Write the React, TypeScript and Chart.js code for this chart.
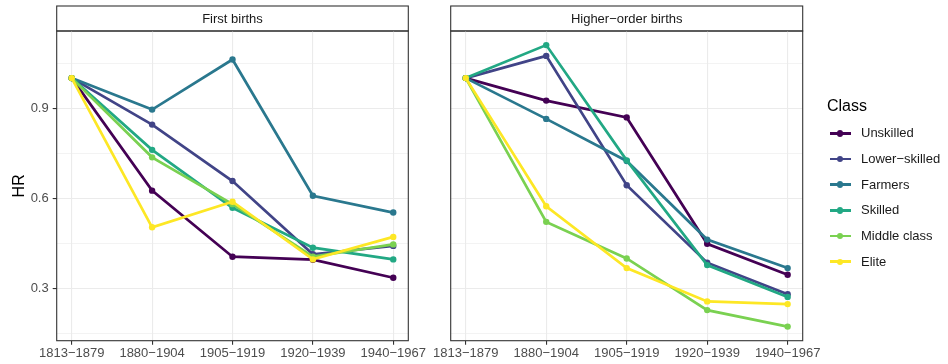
import React, { useEffect, useRef } from 'react';
import { Chart, registerables } from 'chart.js';

Chart.register(...registerables);

// Birth cohorts on the x axis
const cohorts = ['1813\u22121879', '1880\u22121904', '1905\u22121919', '1920\u22121939', '1940\u22121967'];

// Social class groups and their viridis colours
const classes = ['Unskilled', 'Lower\u2212skilled', 'Farmers', 'Skilled', 'Middle class', 'Elite'];
const classColors = ['#440154', '#414487', '#2A788E', '#22A884', '#7AD151', '#FDE725'];

// Facet titles
const panelTitles = ['First births', 'Higher\u2212order births'];

// Hazard ratios, first births
const firstUnskilled = [1.0, 0.625, 0.405, 0.395, 0.335];
const firstLowerSkilled = [1.0, 0.845, 0.657, 0.413, 0.441];
const firstFarmers = [1.0, 0.895, 1.062, 0.608, 0.552];
const firstSkilled = [1.0, 0.761, 0.568, 0.435, 0.396];
const firstMiddle = [1.0, 0.736, 0.58, 0.405, 0.446];
const firstElite = [1.0, 0.503, 0.588, 0.396, 0.471];

// Hazard ratios, higher-order births
const higherUnskilled = [1.0, 0.925, 0.869, 0.448, 0.345];
const higherLowerSkilled = [1.0, 1.074, 0.643, 0.385, 0.28];
const higherFarmers = [1.0, 0.864, 0.724, 0.462, 0.367];
const higherSkilled = [1.0, 1.11, 0.726, 0.377, 0.271];
const higherMiddle = [1.0, 0.521, 0.399, 0.227, 0.172];
const higherElite = [1.0, 0.573, 0.367, 0.256, 0.247];

const yTicks = [0.15, 0.3, 0.45, 0.6, 0.75, 0.9, 1.05];

const firstSeries = [firstUnskilled, firstLowerSkilled, firstFarmers, firstSkilled, firstMiddle, firstElite];
const higherSeries = [higherUnskilled, higherLowerSkilled, higherFarmers, higherSkilled, higherMiddle, higherElite];

const allValues = [...firstSeries.flat(), ...higherSeries.flat()];
const dataMin = Math.min(...allValues);
const dataMax = Math.max(...allValues);
const span = dataMax - dataMin;
const Y_MIN = dataMin - 0.05 * span;
const Y_MAX = dataMax + 0.05 * span;

const FONT = '"Liberation Sans", Arial, Helvetica, sans-serif';
const GRID = '#EBEBEB';
const DARK = '#333333';

const isMajor = (v: number) => Math.abs(v / 0.3 - Math.round(v / 0.3)) < 1e-6;

const panelPlugin = (title: string) => ({
  id: 'panelFrame',
  beforeDraw(chart: any) {
    const { ctx, chartArea } = chart;
    ctx.save();
    ctx.fillStyle = '#FFFFFF';
    ctx.fillRect(chartArea.left, 6, chartArea.right - chartArea.left, chartArea.top - 6);
    ctx.strokeStyle = DARK;
    ctx.lineWidth = 1.1;
    ctx.strokeRect(chartArea.left, 6, chartArea.right - chartArea.left, chartArea.top - 6);
    ctx.fillStyle = '#1A1A1A';
    ctx.font = `13px ${FONT}`;
    ctx.textAlign = 'center';
    ctx.textBaseline = 'middle';
    ctx.fillText(title, (chartArea.left + chartArea.right) / 2, (6 + chartArea.top) / 2 + 0.5);
    ctx.restore();
  },
  afterDatasetsDraw(chart: any) {
    const { ctx, chartArea } = chart;
    ctx.save();
    ctx.strokeStyle = DARK;
    ctx.lineWidth = 1.1;
    ctx.strokeRect(chartArea.left, chartArea.top, chartArea.right - chartArea.left, chartArea.bottom - chartArea.top);
    ctx.restore();
  },
});

function buildConfig(series: number[][], title: string, showY: boolean, pad: { left: number; right: number }) {
  const datasets = series.map((vals, i) => ({
    label: classes[i],
    data: vals.map((v, j) => ({ x: j, y: v })),
    borderColor: classColors[i],
    backgroundColor: classColors[i],
    borderWidth: 2.7,
    pointRadius: 3.2,
    pointBorderWidth: 0,
    pointBackgroundColor: classColors[i],
    tension: 0,
    order: series.length - i,
  }));
  return {
    type: 'line',
    data: { datasets },
    plugins: [panelPlugin(title)],
    options: {
      animation: false,
      responsive: false,
      devicePixelRatio: 1,
      layout: { padding: { left: pad.left, right: pad.right, top: 31, bottom: 0 } },
      plugins: { legend: { display: false }, tooltip: { enabled: false } },
      scales: {
        x: {
          type: 'linear',
          min: -0.187,
          max: 4.187,
          afterBuildTicks: (s: any) => {
            s.ticks = cohorts.map((_, i) => ({ value: i }));
          },
          afterFit: (s: any) => {
            s.height = 23.3;
          },
          border: { display: false },
          grid: {
            color: GRID,
            lineWidth: 1.1,
            drawTicks: true,
            tickLength: 4,
            tickColor: DARK,
            tickWidth: 1.1,
          },
          ticks: {
            autoSkip: false,
            maxRotation: 0,
            padding: 1,
            color: '#4D4D4D',
            font: { family: FONT, size: 13 },
            callback: (v: any) => cohorts[Math.round(v)] ?? '',
          },
        },
        y: {
          type: 'linear',
          min: Y_MIN,
          max: Y_MAX,
          afterBuildTicks: (s: any) => {
            s.ticks = yTicks.map((v) => ({ value: v }));
          },
          afterFit: (s: any) => {
            s.width = showY ? 56.7 : 0;
          },
          border: { display: false },
          title: {
            display: showY,
            text: 'HR',
            color: '#000000',
            font: { family: FONT, size: 16 },
            padding: { top: 9.5, bottom: 0 },
          },
          grid: {
            color: GRID,
            lineWidth: (c: any) => (c.tick && isMajor(c.tick.value) ? 1.1 : 0.6),
            drawTicks: showY,
            tickLength: 4,
            tickColor: (c: any) => (c.tick && isMajor(c.tick.value) ? DARK : 'rgba(0,0,0,0)'),
            tickWidth: 1.1,
          },
          ticks: {
            display: showY,
            padding: 4,
            color: '#4D4D4D',
            font: { family: FONT, size: 13 },
            callback: (v: any) => (isMajor(Number(v)) ? Number(v).toFixed(1) : ''),
          },
        },
      },
    },
  };
}

function Panel(props: { series: number[][]; title: string; showY: boolean; left: number; width: number; pad: { left: number; right: number } }) {
  const ref = useRef<HTMLCanvasElement | null>(null);
  useEffect(() => {
    if (!ref.current) return;
    const chart = new Chart(ref.current, buildConfig(props.series, props.title, props.showY, props.pad) as any);
    return () => chart.destroy();
  }, []);
  return (
    <canvas
      ref={ref}
      width={props.width}
      height={364}
      style={{ position: 'absolute', left: props.left, top: 0, width: props.width, height: 364 }}
    />
  );
}

function Legend() {
  return (
    <div style={{ position: 'absolute', left: 827, top: 95, fontFamily: FONT }}>
      <div style={{ fontSize: 16, color: '#000', height: 22, lineHeight: '22px' }}>Class</div>
      {classes.map((c, i) => (
        <div key={c} style={{ position: 'absolute', left: 0, top: 38.3 + i * 25.7 - 10, height: 20, width: 120 }}>
          <div style={{ position: 'absolute', left: 2.5, top: 8.65, width: 21, height: 2.7, background: classColors[i] }} />
          <div
            style={{
              position: 'absolute',
              left: 9.6,
              top: 6.8,
              width: 6.6,
              height: 6.6,
              borderRadius: '50%',
              background: classColors[i],
            }}
          />
          <div style={{ position: 'absolute', left: 34, top: 0, fontSize: 13, lineHeight: '20px', color: '#1A1A1A', whiteSpace: 'nowrap' }}>
            {c}
          </div>
        </div>
      ))}
    </div>
  );
}

export default function App() {
  return (
    <div style={{ position: 'absolute', left: 0, top: 0, width: 948, height: 364, background: '#FFFFFF', overflow: 'hidden' }}>
      <Panel series={firstSeries} title={panelTitles[0]} showY={true} left={0} width={440} pad={{ left: 0, right: 31.7 }} />
      <Panel series={higherSeries} title={panelTitles[1]} showY={false} left={430} width={400} pad={{ left: 20.7, right: 27.3 }} />
      <Legend />
    </div>
  );
}
